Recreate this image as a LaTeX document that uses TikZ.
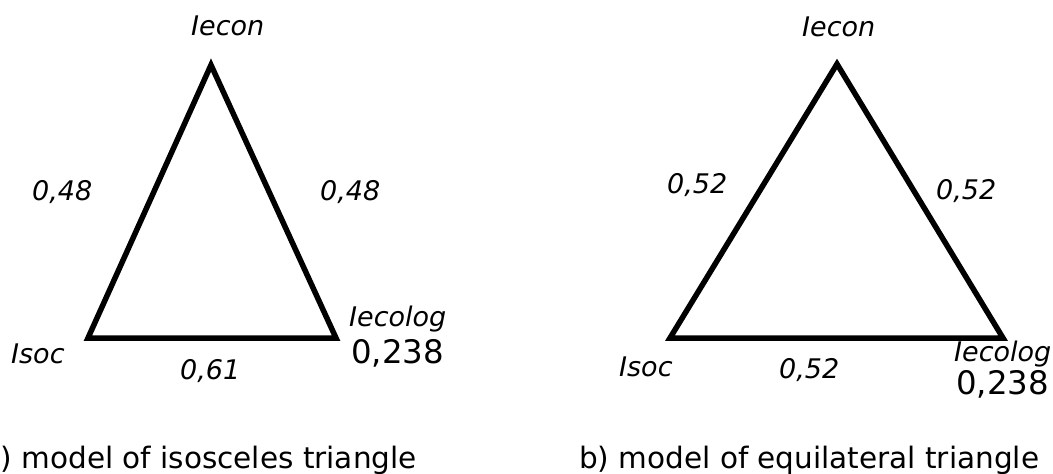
\documentclass[tikz,border=0pt]{standalone}
\usepackage{fontspec}
\setmainfont{DejaVu Sans}
\begin{document}
\begin{tikzpicture}[x=1pt,y=-1pt,
  tri/.style={draw=black,line width=5.5pt,line join=miter},
  lab/.style={inner sep=0pt,font=\fontsize{27}{32}\selectfont\itshape},
  big/.style={inner sep=0pt,font=\fontsize{32.4}{38}\selectfont},
  captext/.style={inner sep=0pt,font=\fontsize{29.5}{35}\selectfont}]
\useasboundingbox[fill=white] (0,0) rectangle (1053,474);
% left triangle
\coordinate (LA) at (211,65);
\coordinate (LB) at (88,338);
\coordinate (LC) at (336,338);
\draw[tri] (LA) -- (LB) -- (LC) -- cycle;
\node[lab,anchor=base west] (LAl) at (191,35) {Iecon};
\node[lab,anchor=base west] (LBl) at (11,363) {Isoc};
\node[lab,anchor=base west] (LCl) at (349,326) {Iecolog};
\node[big,anchor=base west] (LCv) at (351,363) {0,238};
\node[lab,anchor=base west] (LAB) at (32,200) {0,48};
\node[lab,anchor=base west] (LAC) at (320,200) {0,48};
\node[lab,anchor=base west] (LBC) at (180,379) {0,61};
\node[captext,anchor=base east] (Lcap) at (417,468) {) model of isosceles triangle};
% right triangle
\coordinate (RA) at (837,64);
\coordinate (RB) at (670,338);
\coordinate (RC) at (1003,338);
\draw[tri] (RA) -- (RB) -- (RC) -- cycle;
\node[lab,anchor=base west] (RAl) at (802,36) {Iecon};
\node[lab,anchor=base west] (RBl) at (619,376) {Isoc};
\node[lab,anchor=base west] (RCl) at (954,361) {Iecolog};
\node[big,anchor=base west] (RCv) at (956,394) {0,238};
\node[lab,anchor=base west] (RAB) at (667,193) {0,52};
\node[lab,anchor=base west] (RAC) at (936,199) {0,52};
\node[lab,anchor=base west] (RBC) at (779,378) {0,52};
\node[captext,anchor=base west] (Rcap) at (579,468) {b) model of equilateral triangle};
\end{tikzpicture}
\end{document}
